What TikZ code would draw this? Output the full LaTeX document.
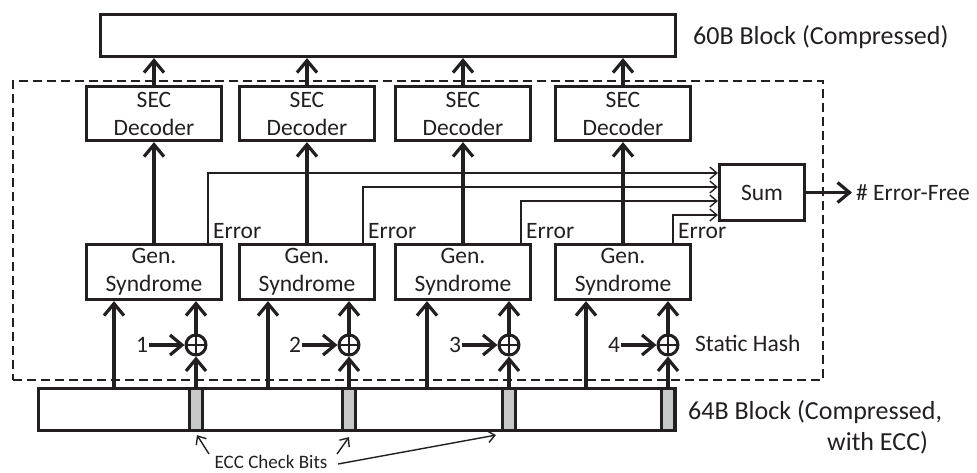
\documentclass[tikz,border=0pt]{standalone}
\usepackage{fontspec}
\setmainfont{Carlito}
\usetikzlibrary{arrows.meta}
\definecolor{ink}{HTML}{231F20}
\definecolor{cbgray}{HTML}{C7C8CA}
\begin{document}
\begin{tikzpicture}[x=1pt,y=-1pt,
  every node/.style={text=ink},
  font=\fontsize{23.5}{28}\selectfont,
  box/.style={draw=ink,line width=3.2pt,fill=white,minimum width=135pt,minimum height=54pt,inner sep=0pt,align=center},
  bar/.style={draw=ink,line width=3.2pt,fill=white,inner sep=0pt},
  checkbit/.style={draw=ink,line width=3.2pt,fill=cbgray,inner sep=0pt,minimum width=13pt,minimum height=42pt},
  xorgate/.style={draw=ink,circle,line width=3pt,minimum size=20pt,inner sep=0pt,
    path picture={\draw[ink,line width=2.2pt] (path picture bounding box.north) -- (path picture bounding box.south) (path picture bounding box.west) -- (path picture bounding box.east);}},
  bigarrow/.style={draw=ink,line width=3.2pt,-{Straight Barb[length=12pt,width=20pt]}},
  thinarrow/.style={draw=ink,line width=1.4pt,-{Straight Barb[length=7pt,width=12pt]}},
  label/.style={anchor=west,inner sep=0pt},
  biglabel/.style={anchor=west,inner sep=0pt,font=\fontsize{26}{30}\selectfont},
  region/.style={draw=ink,line width=1.6pt,dash pattern=on 9pt off 5pt,inner sep=0pt}
]
\useasboundingbox (0,0) rectangle (977,472);

% dashed static-hash region
\node[region,minimum width=810pt,minimum height=299pt] (hashregion) at (418,230.5) {};

% top block
\node[bar,minimum width=575pt,minimum height=42pt] (top) at (388,35.5) {};
\node[biglabel] (toplbl) at (693,37) {60B Block (Compressed)};

% bottom block
\node[bar,minimum width=637pt,minimum height=42pt] (blk) at (357,409.5) {};
\node[biglabel] (blklbl1) at (688,412) {64B Block (Compressed,};
\node[biglabel] (blklbl2) at (827,443) {with ECC)};

% sum
\node[box,minimum width=85pt,minimum height=56pt] (sum) at (762,192.5) {Sum};
\node[label,inner sep=4pt] (ef) at (852,192.5) {\# Error-Free};

% columns
\foreach \i/\c/\e/\h/\l/\ys in {1/154/208/196/114/19.5,2/307/363/349/268/5.5,3/463/521/509/427/-8.5,4/623/673/668/586/-22.5}{
  \node[box] (s\i) at (\c,113.5) {SEC\\Decoder};
  \node[box,minimum height=55pt] (g\i) at (\c,272) {Gen.\\Syndrome};
  \node[checkbit] (cb\i) at (\h,409.5) {};
  \node[xorgate] (x\i) at (\h,345) {};
  \node[inner sep=1pt] (n\i) at (\h-54,345) {\i};
  \coordinate (e\i) at (\e,244);
  \coordinate (in\i) at (\l,388);
  \draw[thinarrow] (e\i) |- ([yshift=\ys pt]sum.west);
  \node[label] (el\i) at (\e+5,231) {Error};
}
\foreach \i in {1,2,3,4}{
  \draw[bigarrow] (s\i.north) -- (s\i.north |- top.south);
  \draw[bigarrow] (g\i.north) -- (s\i.south);
  \draw[bigarrow] (in\i) -- (in\i |- g\i.south);
  \draw[bigarrow] (blk.north -| x\i) -- (x\i.south);
  \draw[bigarrow] (x\i.north) -- (x\i.north |- g\i.south);
  \draw[bigarrow] (n\i.east) -- (x\i.west);
}
\draw[bigarrow] (sum.east) -- (ef.west);

\node[label,anchor=west] (sh) at (695,343) {Static Hash};

% ECC check bits
\node[font=\fontsize{19}{22}\selectfont,inner sep=0pt] (ecc) at (271,462) {ECC Check Bits};
\coordinate (ea) at (209,454);
\coordinate (eb) at (337,454);
\coordinate (ec) at (338,464);
\draw[thinarrow] (ea) -- ([xshift=1pt,yshift=-3pt]cb1.south);
\draw[thinarrow] (eb) -- ([yshift=-5pt]cb2.south);
\draw[thinarrow] (ec) -- ([xshift=-5pt,yshift=-3pt]cb3.south west);
\end{tikzpicture}
\end{document}
